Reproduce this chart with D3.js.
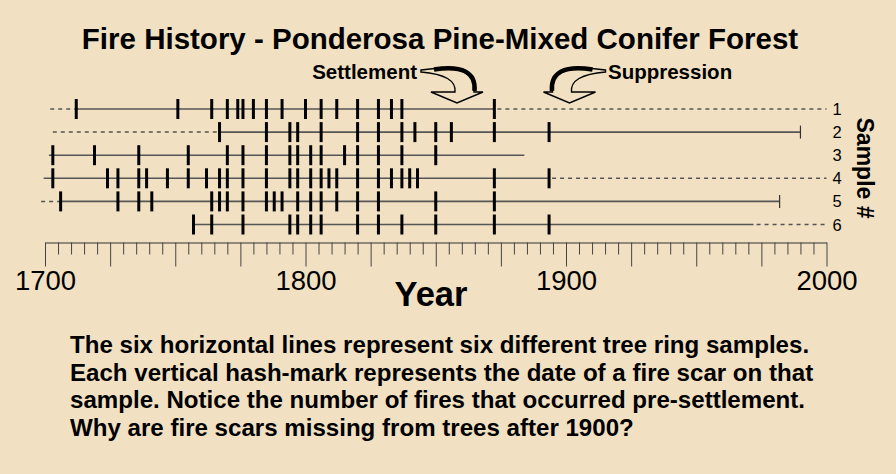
<!DOCTYPE html>
<html><head><meta charset="utf-8">
<script src="https://cdn.jsdelivr.net/npm/d3@7"></script>
<style>
html,body{margin:0;padding:0;background:#f1e1c2;}
svg{display:block;}
text{font-family:"Liberation Sans",Arial,sans-serif;fill:#000;}
</style></head>
<body>
<svg id="chart" width="896" height="474"></svg>
<script>
// ---- data ----
const samples = ["1","2","3","4","5","6"];
const scars1 = [1712,1751,1764,1770,1774,1776,1780,1785,1791,1800,1806,1812,1820,1828,1833,1837,1872.5];
const scars2 = [1767,1785,1794,1797,1806,1820,1828,1837,1842,1850,1856,1872.5,1893.5];
const scars3 = [1703,1719,1736,1755,1770,1776,1785,1794,1797,1802,1806,1815,1820,1828,1837,1850];
const scars4 = [1703,1724,1728,1736,1739,1747,1755,1762,1767,1770,1776,1785,1794,1797,1802,1806,1809,1812,1820,1828,1833,1837,1840,1843,1872.5,1893.5];
const scars5 = [1706,1728,1736,1741,1764,1767,1770,1776,1785,1788,1791,1797,1802,1806,1812,1820,1828,1850,1872.5];
const scars6 = [1757,1764,1776,1794,1797,1802,1806,1820,1828,1837,1850,1872.5,1893.5];
const fireScars = [scars1,scars2,scars3,scars4,scars5,scars6];
const dashStart  = [1702, 1703, null, null, 1698.5, null];   // dashed lead-in begins
const solidStart = [1712, 1767, 1701.5, 1699.5, 1706, 1757];
const solidEnd   = [1872.5, 1990, 1884, 1893.5, 1982, 1972];
const dashEnd    = [2000, null, null, 2000, null, 2000];     // dashed tail ends
const barkYear   = [null, 1990, null, null, 1982, null];      // outer ring marker
const tickYears  = d3.range(1700, 2001, 5);
const labelYears = [1700, 1800, 1900, 2000];
const settlementYear = 1857;
const suppressionYear = 1902.5;
const titleText = "Fire History - Ponderosa Pine-Mixed Conifer Forest";
const noteLines = [
  "The six horizontal lines represent six different tree ring samples.",
  "Each vertical hash-mark represents the date of a fire scar on that",
  "sample. Notice the number of fires that occurred pre-settlement.",
  "Why are fire scars missing from trees after 1900?"
];

// ---- drawing ----
const svg = d3.select("#chart");
const bg = "#f1e1c2";
const x = d3.scaleLinear().domain([1700, 2000]).range([45, 826.5]);
const y = d3.scalePoint().domain(samples).range([109, 224.5]);

svg.append("text").attr("x", 440).attr("y", 48.5).attr("text-anchor", "middle")
  .attr("font-size", 29.5).attr("font-weight", "bold").text(titleText);

const rows = svg.append("g");
samples.forEach((s, i) => {
  const yy = y(s);
  const g = rows.append("g");
  if (dashStart[i] != null)
    g.append("line").attr("x1", x(dashStart[i])).attr("x2", x(solidStart[i]))
      .attr("y1", yy).attr("y2", yy).attr("stroke", "#555").attr("stroke-width", 1.5)
      .attr("stroke-dasharray", "4,4");
  g.append("line").attr("x1", x(solidStart[i])).attr("x2", x(solidEnd[i]))
    .attr("y1", yy).attr("y2", yy).attr("stroke", "#555").attr("stroke-width", 1.6);
  if (dashEnd[i] != null)
    g.append("line").attr("x1", x(solidEnd[i]) + 3).attr("x2", x(dashEnd[i]))
      .attr("y1", yy).attr("y2", yy).attr("stroke", "#555").attr("stroke-width", 1.5)
      .attr("stroke-dasharray", "4,4");
  if (barkYear[i] != null)
    g.append("line").attr("x1", x(barkYear[i])).attr("x2", x(barkYear[i]))
      .attr("y1", yy - 6.5).attr("y2", yy + 6.5).attr("stroke", "#333").attr("stroke-width", 1.2);
  g.selectAll("line.scar").data(fireScars[i]).join("line").attr("class", "scar")
    .attr("x1", d => x(d)).attr("x2", d => x(d))
    .attr("y1", yy - 10).attr("y2", yy + 10)
    .attr("stroke", "#000").attr("stroke-width", 3);
  g.append("text").attr("x", 832.5).attr("y", yy + 6).attr("font-size", 16.5).text(s);
});

// axis
const axis = d3.axisBottom(x).tickValues(tickYears).tickSize(12).tickSizeOuter(0)
  .tickFormat(d => labelYears.includes(d) ? d : "");
const ax = svg.append("g").attr("transform", "translate(0,242.5)").call(axis);
ax.select(".domain").attr("stroke", "#333").attr("stroke-width", 1.2);
ax.selectAll(".tick line").attr("stroke", "#444").attr("stroke-width", 1)
  .attr("y2", d => d % 25 === 0 ? 24 : 12);
ax.selectAll(".tick text").attr("y", 47.5).attr("dy", 0)
  .attr("font-size", 27.5).attr("font-family", "Liberation Sans, Arial, sans-serif").attr("fill", "#000");

svg.append("text").attr("x", 431).attr("y", 306).attr("text-anchor", "middle")
  .attr("font-size", 34.5).attr("font-weight", "bold").text("Year");

svg.append("text").attr("transform", "translate(857,168) rotate(90)")
  .attr("text-anchor", "middle").attr("font-size", 23).attr("font-weight", "bold").text("Sample #");

// annotation arrows
function arrow(tipX, tipY, dir) {
  const p = (a, b) => `${tipX + dir * a},${tipY + b}`;
  const g = svg.append("g");
  g.append("path")
    .attr("d", `M${p(-33,-33)} Q${p(24,-41)} ${p(20,-11)} L${p(29,-11)} L${p(3,0)} L${p(-23,-11)} L${p(1,-11)} Q${p(3,-28)} ${p(-33,-31)} Z`)
    .attr("fill", bg).attr("stroke", "#000").attr("stroke-width", 1.4).attr("stroke-linejoin", "miter");
  g.append("path")
    .attr("d", `M${p(-20,-33.5)} Q${p(23,-40)} ${p(20.5,-12)}`)
    .attr("fill", "none").attr("stroke", "#000").attr("stroke-width", 4.5);
}
arrow(x(settlementYear), 103, 1);
arrow(x(suppressionYear), 103, -1);
svg.append("text").attr("x", 417).attr("y", 79).attr("text-anchor", "end")
  .attr("font-size", 20.5).attr("font-weight", "bold").text("Settlement");
svg.append("text").attr("x", 608).attr("y", 79)
  .attr("font-size", 20.5).attr("font-weight", "bold").text("Suppression");

// note text
svg.append("g").selectAll("text").data(noteLines).join("text")
  .attr("x", 70).attr("y", (d, i) => 353 + i * 27.5)
  .attr("font-size", 24.1).attr("font-weight", "bold").text(d => d);
</script>
</body></html>
